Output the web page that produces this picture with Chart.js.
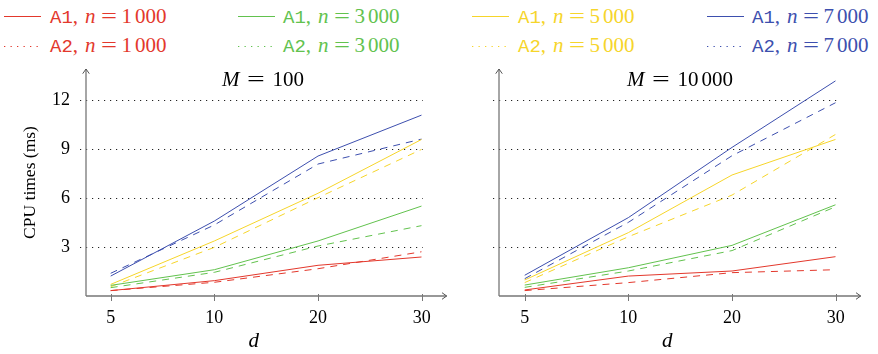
<!DOCTYPE html>
<html><head><meta charset="utf-8">
<script src="https://cdn.jsdelivr.net/npm/chart.js@4.4.0/dist/chart.umd.min.js"></script>
<style>
html,body{margin:0;padding:0;background:#fff;}
body{width:878px;height:354px;position:relative;overflow:hidden;font-family:"Liberation Serif",serif;}
.cw{position:absolute;top:60px;width:450px;height:294px;}
.leg{position:absolute;font-size:21px;line-height:21px;white-space:nowrap;}
.mono{font-family:"Liberation Mono",monospace;font-size:19px;}
.eq{display:inline-block;transform:scaleX(1.35);margin:0 7px;}
.ttl{position:absolute;font-size:21px;line-height:21px;white-space:nowrap;transform:translateX(-50%);z-index:5;}
.ttl .eq{transform:scaleX(1.5);margin:0 11px 0 10px;}
svg{position:absolute;overflow:visible;}
</style></head>
<body>
<div id="legend"></div>
<div class="cw" style="left:0"><canvas id="c1" width="450" height="294"></canvas></div>
<div class="cw" style="left:413px"><canvas id="c2" width="450" height="294"></canvas></div>
<div class="ttl" style="left:263px;top:69px"><i>M</i><span class="eq">=</span>100</div>
<div class="ttl" style="left:680px;top:69px"><i>M</i><span class="eq">=</span>10<span style="margin-left:3px"></span>000</div>
<script>
// ---- data ----
const dLabels = ['5', '10', '20', '30'];
const yTicks = [3, 6, 9, 12];
const nValues = ['1000', '3000', '5000', '7000'];

// M = 100
const m100_a1_n1000 = [0.33, 0.94, 1.88, 2.39];
const m100_a1_n3000 = [0.65, 1.61, 3.37, 5.51];
const m100_a1_n5000 = [0.71, 3.37, 6.29, 9.59];
const m100_a1_n7000 = [1.22, 4.59, 8.57, 11.08];
const m100_a2_n1000 = [0.33, 0.84, 1.67, 2.71];
const m100_a2_n3000 = [0.51, 1.45, 3.06, 4.31];
const m100_a2_n5000 = [0.57, 2.98, 6.02, 8.98];
const m100_a2_n7000 = [1.39, 4.35, 8.08, 9.61];

// M = 10000
const m10000_a1_n1000 = [0.37, 1.22, 1.53, 2.41];
const m10000_a1_n3000 = [0.67, 1.73, 3.10, 5.59];
const m10000_a1_n5000 = [0.98, 3.88, 7.41, 9.59];
const m10000_a1_n7000 = [1.27, 4.80, 9.10, 13.18];
const m10000_a2_n1000 = [0.33, 0.82, 1.43, 1.61];
const m10000_a2_n3000 = [0.53, 1.53, 2.78, 5.47];
const m10000_a2_n5000 = [0.82, 3.63, 6.18, 9.90];
const m10000_a2_n7000 = [1.06, 4.51, 8.59, 11.84];

// ---- styles ----
const colors = ['#e3382c', '#62c24e', '#f6d52a', '#3d4fae'];
const FONT = 'Liberation Serif';

// ---- legend ----
const legLineX = [4, 238, 472, 707];
const legTextX = [50, 283, 518, 752];
const legend = document.getElementById('legend');
nValues.forEach((n, i) => {
  ['A1', 'A2'].forEach((alg, r) => {
    const ly = r === 0 ? 16 : 46;
    const svg = document.createElementNS('http://www.w3.org/2000/svg', 'svg');
    svg.setAttribute('width', '40'); svg.setAttribute('height', '4');
    svg.style.left = legLineX[i] + 'px'; svg.style.top = (ly - 2) + 'px';
    const ln = document.createElementNS('http://www.w3.org/2000/svg', 'line');
    ln.setAttribute('x1', '0'); ln.setAttribute('x2', '37');
    ln.setAttribute('y1', '2.5'); ln.setAttribute('y2', '2.5');
    ln.setAttribute('stroke', colors[i]); ln.setAttribute('stroke-width', '1');
    if (r === 1) ln.setAttribute('stroke-dasharray', '1.3 5.2');
    svg.appendChild(ln);
    legend.appendChild(svg);
    const d = document.createElement('div');
    d.className = 'leg';
    d.style.left = legTextX[i] + 'px';
    d.style.top = (r === 0 ? 6 : 35) + 'px';
    d.style.color = colors[i];
    d.innerHTML = '<span class="mono">' + alg + '</span>,<i style="margin-left:7px">n</i><span class="eq">=</span>' +
      n.slice(0, 1) + '<span style="margin-left:3px"></span>' + n.slice(1);
    legend.appendChild(d);
  });
});

// ---- plugin: grid, axes with arrows ----
const axesPlugin = {
  id: 'axesArrows',
  beforeDatasetsDraw(chart) {
    const {ctx, chartArea: a, scales: {x, y}} = chart;
    ctx.save();
    ctx.strokeStyle = '#222';
    ctx.lineWidth = 1;
    ctx.setLineDash([1.2, 4.8]);
    const xEnd = x.getPixelForValue(dLabels.length - 1);
    yTicks.forEach(v => {
      const py = Math.round(y.getPixelForValue(v)) + 0.5;
      ctx.beginPath(); ctx.moveTo(a.left - 6, py); ctx.lineTo(xEnd + 1, py); ctx.stroke();
    });
    ctx.restore();
  },
  afterDraw(chart) {
    const {ctx, chartArea: a, scales: {x}} = chart;
    ctx.save();
    ctx.strokeStyle = '#777';
    ctx.lineWidth = 1.3;
    ctx.setLineDash([]);
    const tipX = a.right + 25;
    const tipY = a.top;
    ctx.beginPath();
    ctx.moveTo(a.left, a.bottom); ctx.lineTo(a.left, tipY);
    ctx.moveTo(a.left, a.bottom); ctx.lineTo(tipX, a.bottom);
    ctx.stroke();
    ctx.lineWidth = 1;
    ctx.strokeStyle = '#555';
    ctx.beginPath();
    ctx.moveTo(a.left - 3.3, tipY + 4.7); ctx.lineTo(a.left, tipY); ctx.lineTo(a.left + 3.3, tipY + 4.7);
    ctx.moveTo(tipX - 4.7, a.bottom - 3.3); ctx.lineTo(tipX, a.bottom); ctx.lineTo(tipX - 4.7, a.bottom + 3.3);
    ctx.stroke();
    ctx.strokeStyle = '#777';
    ctx.beginPath();
    dLabels.forEach((_, i) => {
      const px = Math.round(x.getPixelForValue(i)) + 0.5;
      ctx.moveTo(px, a.bottom - 2); ctx.lineTo(px, a.bottom + 5);
    });
    ctx.stroke();
    ctx.restore();
  }
};

function series(arr) { return arr.map((v, i) => ({x: i, y: v})); }

function makeChart(id, a1, a2, xMin, padRight, showY) {
  const datasets = [];
  nValues.forEach((n, i) => {
    datasets.push({label: 'A1, n = ' + n, data: series(a1[i]), borderColor: colors[i], borderWidth: 1, pointRadius: 0, fill: false, tension: 0});
    datasets.push({label: 'A2, n = ' + n, data: series(a2[i]), borderColor: colors[i], borderWidth: 1, borderDash: [7, 6], pointRadius: 0, fill: false, tension: 0});
  });
  return new Chart(document.getElementById(id), {
    type: 'line',
    data: {datasets},
    plugins: [axesPlugin],
    options: {
      responsive: false, animation: false, devicePixelRatio: 1,
      layout: {padding: {top: 9, right: padRight, left: 0, bottom: 0}},
      plugins: {legend: {display: false}, tooltip: {enabled: false}},
      scales: {
        x: {
          type: 'linear', min: xMin, max: dLabels.length - 1,
          afterBuildTicks: s => { s.ticks = dLabels.map((_, i) => ({value: i})); },
          afterFit: s => { s.height = 58; s.paddingLeft = 0; s.paddingRight = 0; },
          grid: {display: false, drawTicks: false}, border: {display: false},
          ticks: {autoSkip: false, maxRotation: 0, padding: 11, color: '#000',
                  font: {family: FONT, size: 18}, callback: (v, idx) => dLabels[idx]},
          title: {display: true, text: 'd', color: '#000', font: {family: FONT, size: 21, style: 'italic'}, padding: {top: 0, bottom: 0}}
        },
        y: {
          type: 'linear', min: 0, max: 13.9,
          afterBuildTicks: s => { s.ticks = yTicks.map(v => ({value: v})); },
          afterFit: s => { s.width = 86; s.paddingTop = 0; s.paddingBottom = 0; },
          grid: {display: false, drawTicks: false}, border: {display: false},
          ticks: {display: showY, padding: 16, color: '#000', font: {family: FONT, size: 18}},
          title: {display: showY, text: 'CPU times (ms)', color: '#000', font: {family: FONT, size: 17.5}, padding: {top: 20, bottom: 0}}
        }
      }
    }
  });
}

makeChart('c1',
  [m100_a1_n1000, m100_a1_n3000, m100_a1_n5000, m100_a1_n7000],
  [m100_a2_n1000, m100_a2_n3000, m100_a2_n5000, m100_a2_n7000],
  -0.238, 28.3, true);
makeChart('c2',
  [m10000_a1_n1000, m10000_a1_n3000, m10000_a1_n5000, m10000_a1_n7000],
  [m10000_a2_n1000, m10000_a2_n3000, m10000_a2_n5000, m10000_a2_n7000],
  -0.248, 27.3, false);
</script>
</body></html>
